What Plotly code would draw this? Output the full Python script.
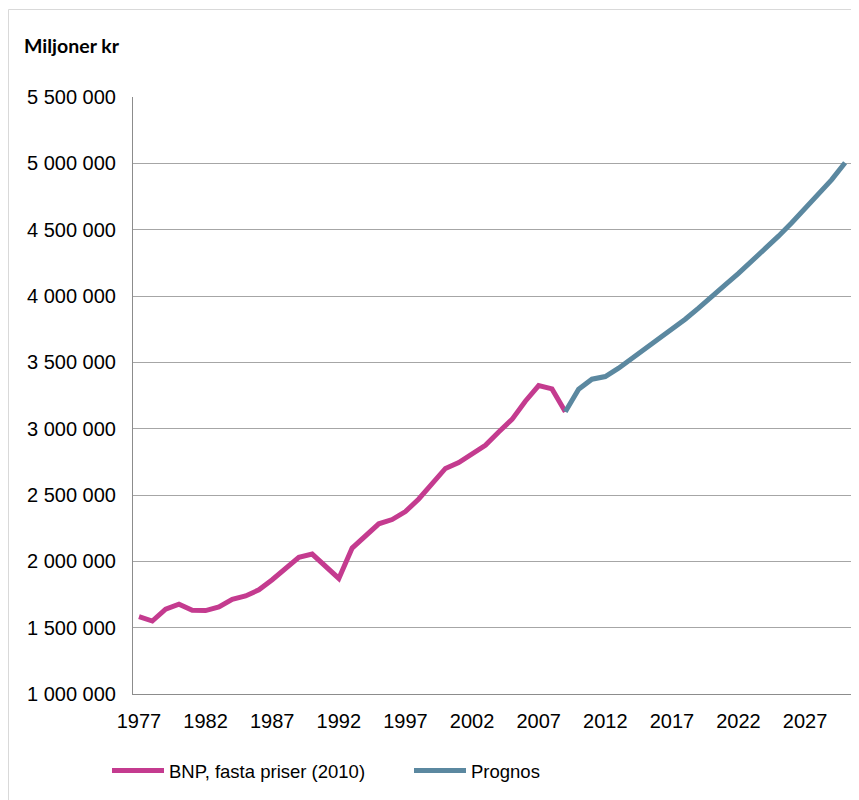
import plotly.graph_objects as go

years_bnp = list(range(1977, 2010))
bnp = [1583000, 1550000, 1639000, 1677000, 1631000, 1629000, 1656000, 1714000, 1739000, 1785000,
       1861000, 1942000, 2030000, 2055000, 1967000, 1871000, 2100000, 2195000, 2283000, 2315000,
       2375000, 2470000, 2582000, 2700000, 2745000, 2807000, 2875000, 2975000, 3070000, 3207000,
       3325000, 3300000, 3128000]
years_prognos = list(range(2009, 2031))
prognos = [3128000, 3298000, 3373000, 3393000, 3456000, 3528000, 3603000, 3675000, 3750000, 3825000,
           3908000, 4000000, 4083000, 4170000, 4260000, 4352000, 4451000, 4552000, 4657000, 4764000,
           4877000, 5005000]
x_ticks = list(range(1977, 2028, 5))
y_ticks = list(range(1000000, 5500001, 500000))
y_ticktext = [f"{v:,}".replace(",", " ") for v in y_ticks]

PINK = "#C43B8F"
BLUE = "#5B88A0"
FONT = "Arial, Liberation Sans, sans-serif"

W, H = 851, 792
L, R, T, B = 125, 7, 89, 106
PW, PH = W - L - R, H - T - B

fig = go.Figure()
fig.add_trace(go.Scatter(x=years_bnp, y=bnp, mode="lines", name="BNP, fasta priser (2010)",
                         line=dict(color=PINK, width=5)))
fig.add_trace(go.Scatter(x=years_prognos, y=prognos, mode="lines", name="Prognos",
                         line=dict(color=BLUE, width=5)))

fig.update_layout(
    width=W, height=H,
    margin=dict(l=L, r=R, t=T, b=B),
    paper_bgcolor="white", plot_bgcolor="white",
    font=dict(family=FONT, color="#000000"),
    showlegend=True,
    legend=dict(orientation="h", x=(100 - 1 - L) / PW, xanchor="left", y=-(771 - 8 - (T + PH)) / PH,
                yanchor="middle",
                font=dict(size=18.5, family=FONT), entrywidth=235, itemwidth=52,
                bgcolor="rgba(0,0,0,0)"),
    xaxis=dict(range=[1976.55, 2030.52], tickvals=x_ticks, showgrid=False,
               showline=True, linecolor="#8C8C8C", linewidth=1, ticks="", zeroline=False,
               tickfont=dict(size=20, family=FONT), ticklabelstandoff=9),
    yaxis=dict(range=[1000000, 5500000], tickvals=y_ticks, ticktext=y_ticktext,
               showgrid=True, gridcolor="#A6A6A6", gridwidth=1,
               showline=True, linecolor="#8C8C8C", linewidth=1, ticks="", zeroline=False,
               tickfont=dict(size=20, family=FONT), ticklabelstandoff=12),
    shapes=[dict(type="rect", xref="paper", yref="paper", x0=-(L - 0.5) / PW, x1=1.2,
                 y0=-1, y1=1 + (T - 1.5) / PH, line=dict(color="#D9D9D9", width=1),
                 fillcolor="rgba(0,0,0,0)", layer="below")],
    annotations=[dict(text="<b>Miljoner kr</b>", xref="paper", yref="paper",
                      x=-(L - 14) / PW, y=1 + (T - 38) / PH, xanchor="left", yanchor="middle",
                      showarrow=False, font=dict(size=19.5, family="Lato, Open Sans, sans-serif"))],
)

fig.write_html("out.html")
